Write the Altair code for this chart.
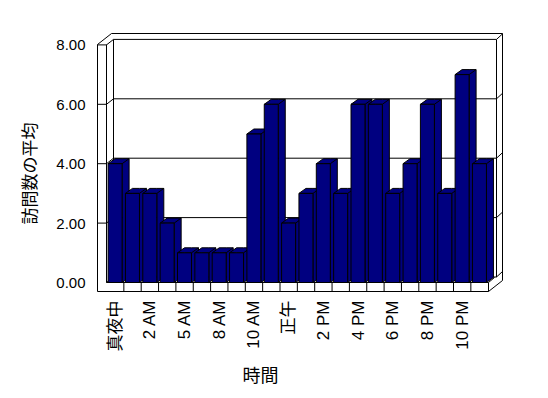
import json
import altair as alt
import pandas as pd

# ---------------- data ----------------
hours = ["真夜中", "1 AM", "2 AM", "3 AM", "5 AM", "6 AM", "8 AM", "9 AM", "10 AM",
         "11 AM", "正午", "1 PM", "2 PM", "3 PM", "4 PM", "5 PM", "6 PM", "7 PM",
         "8 PM", "9 PM", "10 PM", "11 PM"]
visits = [4, 3, 3, 2, 1, 1, 1, 1, 5, 6, 2, 3, 4, 3, 6, 6, 3, 4, 6, 3, 7, 4]
y_ticks = [0, 2, 4, 6, 8]
label_step = 2

# ---------------- geometry ----------------
W, H = 408, 265
PAD = {"left": 89, "top": 22, "right": 27, "bottom": 93}
X0 = 8 + PAD["left"]      # page x of plot left
Y0 = 8 + PAD["top"]       # page y of plot top
PITCH = 17.35             # px per category
XB0 = 106.5               # page x where first category starts
UNIT = 29.7               # px per y unit
YZ = 282.5                # page y of value 0


def U(px):
    return (px - XB0) / PITCH


def V(py):
    return (YZ - py) / UNIT


x_dom = [U(X0), U(X0 + W)]
y_dom = [V(Y0 + H), V(Y0)]
xs = alt.Scale(domain=x_dom, nice=False, zero=False)
ys = alt.Scale(domain=y_dom, nice=False, zero=False)

A_OFF = 1.6 / PITCH       # bar face start inside category
BW = 14 / PITCH           # bar face width
DX = 7 / PITCH            # bar depth (x)
DY = 5 / UNIT             # bar depth (y)
GX0, GX1 = 113.5, 496.5   # back wall x extent (page)
GDY = 5.5 / UNIT          # back wall lift
EPS = 1e-4

NAVY = "#000080"
FONT = "Liberation Sans, Noto Sans CJK JP"

label_expr = json.dumps(hours, ensure_ascii=False) + "[floor(datum.value)]"

X_AXIS = alt.Axis(
    values=[i + 0.5 for i in range(0, len(hours), label_step)],
    labelExpr=label_expr, labelAngle=270, labelAlign="right", labelBaseline="middle",
    labelFontSize=17, labelFont=FONT, labelColor="black",
    domain=False, ticks=False, tickSize=0, grid=False, labelPadding=5,
    labelOverlap=False, labelBound=False, labelFlush=False,
    title="時間", titleX=163, titleY=81, titleFontSize=18, titleFont=FONT,
    titleFontWeight="normal", titleColor="black", titleBaseline="middle",
    titleAlign="center")
Y_AXIS = alt.Axis(
    values=y_ticks, format=".2f", labelFontSize=15, labelFont=FONT,
    labelColor="black", labelPadding=12, domain=False, ticks=False, tickSize=0,
    grid=False, labelFlush=False, labelBound=False,
    title="訪問数の平均", titleAngle=270, titleX=-67, titleY=143,
    titleFontSize=17, titleFont=FONT, titleFontWeight="normal",
    titleColor="black", titleAlign="center", titleBaseline="middle")


def X(field):
    return alt.X(field, scale=xs, axis=X_AXIS, title="時間")


def Y(field):
    return alt.Y(field, scale=ys, axis=Y_AXIS, title="訪問数の平均")


# ---------------- bars ----------------
front = pd.DataFrame({
    "a": [i + A_OFF for i in range(len(visits))],
    "b": [i + A_OFF + BW for i in range(len(visits))],
    "v": visits,
    "z": [0] * len(visits),
})
front["bx"] = front["b"] + DX
front["vy"] = front["v"] + DY

rows = []
for i, val in enumerate(visits):
    a = i + A_OFF
    b = a + BW
    pts = [(a, val, val), (a + DX, val + DY, val), (b - EPS, val + DY, val),
           (b, val + DY, 0), (b + DX, val + DY, DY)]
    for k, (x, t, bt) in enumerate(pts):
        rows.append({"bar": i, "k": k, "x": x, "top": t, "bot": bt})
faces = pd.DataFrame(rows)

# ---------------- frame ----------------
segs = []


def seg(x1, y1, x2, y2):
    segs.append({"x1": U(x1), "y1": V(y1), "x2": U(x2), "y2": V(y2)})


seg(97.5, 44.5, 97.5, 291.5)
seg(106.5, 44.5, 106.5, 282.5)
seg(97.5, 44.5, 111.5, 33.5)
seg(111.5, 33.5, 502.5, 33.5)
seg(502.5, 33.5, 502.5, 280.5)
seg(GX1, 39.5, GX1, 277)
seg(GX0, 39.5, GX0, 277)
seg(97.5, 291.5, 488.5, 291.5)
seg(106.5, 282.5, 488.5, 282.5)
seg(488.5, 282.5, 488.5, 291.5)
seg(488.5, 291.5, 502.5, 280.5)
seg(488.5, 282.5, 494.5, 277.5)
for k in range(1, len(hours)):
    px = XB0 + PITCH * k
    seg(px, 282.5, px, 291.5)
frame = pd.DataFrame(segs)

grid_rows = []
for t in y_ticks:
    if t > 0:
        grid_rows.append({"x1": U(97.5), "y1": t, "x2": U(106.5), "y2": t})
    grid_rows.append({"x1": U(106.5), "y1": t, "x2": U(GX0), "y2": t + GDY})
    grid_rows.append({"x1": U(GX0), "y1": t + GDY, "x2": U(GX1), "y2": t + GDY})
    grid_rows.append({"x1": U(GX1), "y1": t + GDY, "x2": U(502.5), "y2": t + GDY + 5.5 / UNIT})
grid = pd.DataFrame(grid_rows)

rule_kw = dict(color="black", strokeWidth=1)

frame_layer = alt.Chart(frame).mark_rule(**rule_kw).encode(
    x=X("x1:Q"), x2="x2:Q", y=Y("y1:Q"), y2="y2:Q")

grid_layer = alt.Chart(grid).mark_rule(**rule_kw).encode(
    x=X("x1:Q"), x2="x2:Q", y=Y("y1:Q"), y2="y2:Q")

face_layer = alt.Chart(faces).mark_area(
    interpolate="linear", strokeWidth=1, fillOpacity=1, strokeOpacity=1
).encode(
    x=X("x:Q"), y=Y("top:Q"), y2="bot:Q",
    fill=alt.value(NAVY), stroke=alt.value("black"),
    detail="bar:N")

edge_layer = alt.Chart(front).mark_rule(**rule_kw).encode(
    x=X("b:Q"), x2="bx:Q", y=Y("v:Q"), y2="vy:Q")

front_layer = alt.Chart(front).mark_rect(
    fill=NAVY, stroke="black", strokeWidth=1
).encode(x=X("a:Q"), x2="b:Q", y=Y("z:Q"), y2="v:Q")

chart = alt.layer(grid_layer, frame_layer, face_layer, edge_layer, front_layer).properties(
    width=W, height=H,
    autosize=alt.AutoSizeParams(type="none"),
    padding=PAD,
    background="white",
).configure_view(stroke=None)

chart.save("out.html", embed_options={"renderer": "svg", "actions": False})
